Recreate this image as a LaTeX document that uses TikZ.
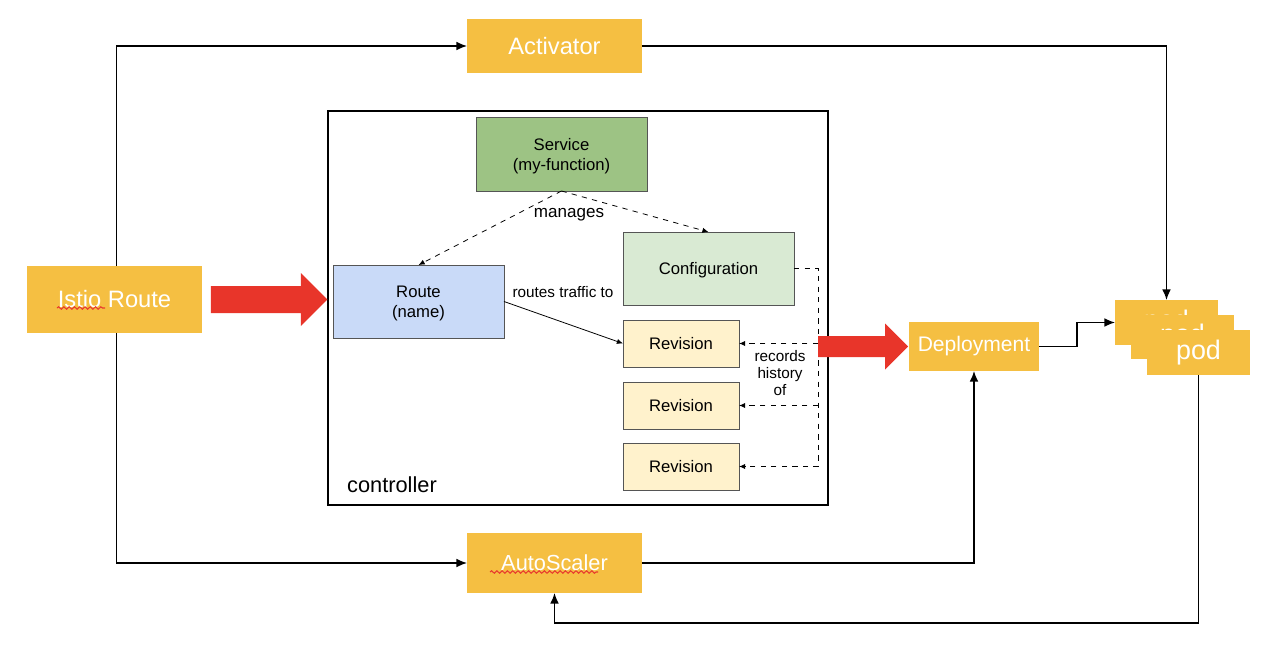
\documentclass[tikz,border=0pt]{standalone}
\usepackage{fontspec}
\setmainfont{Liberation Sans}
\usetikzlibrary{calc}
\usetikzlibrary{positioning}
\usetikzlibrary{arrows.meta}
\usetikzlibrary{decorations.pathmorphing}

\definecolor{boxyellow}{HTML}{F5BF42}
\definecolor{arrowred}{HTML}{E8352A}
\definecolor{squigglered}{HTML}{E83A2E}
\definecolor{boxgray}{HTML}{555555}
\definecolor{servicegreen}{HTML}{9DC384}
\definecolor{configgreen}{HTML}{D9EAD3}
\definecolor{routeblue}{HTML}{C9DAF8}
\definecolor{revyellow}{HTML}{FFF2CC}

\begin{document}
\begin{tikzpicture}[x=0.02cm, y=-0.02cm,
  >={Latex[length=6pt,width=5pt]},
  ybox/.style={fill=boxyellow, text=white, inner sep=0pt, outer sep=0pt, font=\fontsize{13.5}{16}\selectfont},
  kbox/.style={draw=boxgray, line width=0.5pt, inner sep=0pt, outer sep=0pt, align=center, text depth=0pt, font=\fontsize{9.5}{11.4}\selectfont},
  link/.style={line width=0.9pt, ->},
  smallarrow/.style={line width=0.45pt, -{Latex[length=3.5pt,width=3pt]}},
  bigarrow/.style={fill=arrowred},
  squiggle/.style={draw=squigglered, line width=0.6pt, decorate, decoration={snake, amplitude=0.7pt, segment length=3pt}}
]
\useasboundingbox (0,0) rectangle (1274,652);

% controller frame
\draw[line width=0.9pt] (328,111) rectangle (828,505);
\node[font=\fontsize{12.4}{14}\selectfont] (controller) at (392,485) {controller};

% outer yellow boxes
\node[ybox, minimum width=3.5cm, minimum height=1.08cm] (activator) at (554.5,46) {Activator};
\node[ybox, minimum width=3.5cm, minimum height=1.34cm] (istio) at (114.5,299.5) {Istio Route};
\node[ybox, minimum width=3.5cm, minimum height=1.2cm, font=\fontsize{12.4}{14}\selectfont] (autoscaler) at (554.5,563) {AutoScaler};
\node[ybox, minimum width=2.6cm, minimum height=0.98cm, font=\fontsize{12}{14}\selectfont] (deployment) at (974,346.5) {Deployment};

% pods
\node[ybox, minimum width=2.06cm, minimum height=0.9cm, font=\fontsize{15.3}{18}\selectfont] (pod1) at (1166.5,322.5) {pod};
\node[ybox, minimum width=2.06cm, minimum height=0.9cm, font=\fontsize{15.3}{18}\selectfont] (pod2) at (1182.5,337) {pod};
\node[ybox, minimum width=2.06cm, minimum height=0.9cm, font=\fontsize{15.3}{18}\selectfont] (pod3) at (1198.5,352.5) {pod};

% spelling marks
\draw[squiggle] ($(istio.center)+(-57.5,8.5)$) -- ($(istio.center)+(-9.5,8.5)$);
\draw[squiggle] ($(autoscaler.center)+(-64.5,9)$) -- ($(autoscaler.center)+(43.5,9)$);

% inner boxes
\node[kbox, fill=servicegreen, minimum width=3.42cm, minimum height=1.48cm] (service) at (561.5,154) {Service\\(my-function)};
\node[kbox, fill=routeblue, minimum width=3.42cm, minimum height=1.46cm] (route) at (418.5,301.5) {Route\\(name)};
\node[kbox, fill=configgreen, minimum width=3.42cm, minimum height=1.46cm] (config) at (708.5,268.5) {Configuration};
\node[kbox, fill=revyellow, minimum width=2.32cm, minimum height=0.94cm] (rev1) at (681,343.5) {Revision};
\node[kbox, fill=revyellow, minimum width=2.32cm, minimum height=0.94cm] (rev2) at (681,405.5) {Revision};
\node[kbox, fill=revyellow, minimum width=2.32cm, minimum height=0.94cm] (rev3) at (681,466.5) {Revision};

% manages
\draw[smallarrow, dashed] (service.south) -- (route.north);
\draw[smallarrow, dashed] (service.south) -- (config.north);
\node[font=\fontsize{9.7}{11}\selectfont] (manages) at (569,215) {manages};

% routes traffic to
\draw[smallarrow] (route.east) -- (rev1.west);
\node[font=\fontsize{8.7}{10}\selectfont] (traffic) at (563,292) {routes traffic to};

% records history of
\coordinate (hist) at (818,0);
\draw[smallarrow, dashed] (config.east) -- (config.east -| hist) |- (rev3.east);
\draw[smallarrow, dashed] (rev1.east -| hist) -- (rev1.east);
\draw[smallarrow, dashed] (rev2.east -| hist) -- (rev2.east);
\node[align=center, font=\fontsize{8.7}{9.6}\selectfont] (history) at (780,373) {records\\history\\of};

% outer connectors
\draw[link] (istio.north) ++(2,0) |- (activator.west);
\draw[link] (istio.south) ++(2,0) |- (autoscaler.west);
\draw[link] (activator.east) -| (pod1.north);
\draw[link] (autoscaler.east) -| (deployment.south);
\draw[link] (deployment.east) -- ++(38,0) |- (pod1.west);
\draw[link] (pod3.south) -- ++(0,248) -| (autoscaler.south);

% red arrows
\fill[bigarrow] (istio.east) ++(9,-13.5) -- ++(90,0) -- ++(0,-13) -- ++(26.5,26.5) -- ++(-26.5,26.5) -- ++(0,-13) -- ++(-90,0) -- cycle;
\fill[bigarrow] (deployment.west) ++(-91,-10.5) -- ++(67,0) -- ++(0,-12.5) -- ++(23,23) -- ++(-23,23) -- ++(0,-12.5) -- ++(-67,0) -- cycle;

\end{tikzpicture}
\end{document}
